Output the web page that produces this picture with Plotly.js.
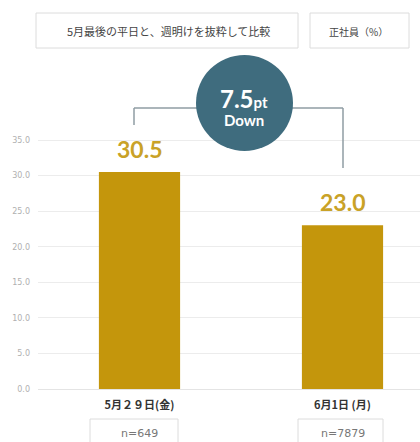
<!DOCTYPE html>
<html><head><meta charset="utf-8">
<script src="https://cdn.plot.ly/plotly-3.0.1.min.js"></script>
<style>html,body{margin:0;padding:0;background:#fff}</style>
</head><body><div id="chart" style="width:420px;height:442px"></div>
<script>
const categories = ["5月２９日(金)", "6月1日 (月)"];
const values = [30.5, 23.0];
const sampleSizes = ["n=649", "n=7879"];
const yTicks = [0, 5, 10, 15, 20, 25, 30, 35];
const diffText = "7.5";
const headerLeft = "5月最後の平日と、週明けを抜粋して比較";
const headerRight = "正社員（%）";

const W = 420, H = 442, ML = 38, MB = 53, MT = 0, MR = 0;
const PW = W - ML - MR, PH = H - MT - MB;
const px = x => (x - ML) / PW;
const py = y => (H - MB - y) / PH;
const yMax = 35 * PH / (389 - 140);

const jp = '"Noto Sans CJK JP", "Noto Sans", sans-serif';
const numFont = 'Lato, "Noto Sans", sans-serif';
const smallFont = '"DejaVu Sans", sans-serif';

const trace = {
  type: 'bar', x: categories, y: values,
  marker: {color: '#C4960C'}, width: 0.4, hoverinfo: 'skip'
};

const boxLine = {color: '#dcdcdc', width: 1};
const shapes = [
  {type:'rect', xref:'paper', yref:'paper', x0:px(36), x1:px(298), y0:py(13), y1:py(48), line:boxLine, fillcolor:'rgba(0,0,0,0)'},
  {type:'rect', xref:'paper', yref:'paper', x0:px(310), x1:px(409), y0:py(13), y1:py(48), line:boxLine, fillcolor:'rgba(0,0,0,0)'},
  {type:'line', xref:'paper', yref:'paper', x0:px(134), x1:px(343), y0:py(108), y1:py(108), line:{color:'#8f9ca3', width:1.5}},
  {type:'line', xref:'paper', yref:'paper', x0:px(134), x1:px(134), y0:py(108), y1:py(125), line:{color:'#8f9ca3', width:1.5}},
  {type:'line', xref:'paper', yref:'paper', x0:px(343), x1:px(343), y0:py(108), y1:py(168), line:{color:'#8f9ca3', width:1.5}},
  {type:'circle', xref:'paper', yref:'paper', x0:px(196), x1:px(293), y0:py(55), y1:py(151), line:{width:0}, fillcolor:'#3F6C7E'},
  {type:'rect', xref:'paper', yref:'paper', x0:px(90), x1:px(178), y0:py(419), y1:py(446), line:boxLine, fillcolor:'rgba(0,0,0,0)'},
  {type:'rect', xref:'paper', yref:'paper', x0:px(298), x1:px(383), y0:py(419), y1:py(446), line:boxLine, fillcolor:'rgba(0,0,0,0)'}
];

const mid = {showarrow:false, xanchor:'center', yanchor:'middle'};
const annotations = [
  Object.assign({xref:'paper', yref:'paper', x:px(168), y:py(31), text:headerLeft, font:{family:jp, size:11, color:'#444'}}, mid),
  Object.assign({xref:'paper', yref:'paper', x:px(358), y:py(31), text:headerRight, font:{family:jp, size:10, color:'#444'}}, mid),
  Object.assign({xref:'paper', yref:'paper', x:px(244), y:py(98), text:'<b>' + diffText + '</b><b><span style="font-size:15px">pt</span></b>', font:{family:numFont, size:24, color:'#ffffff'}}, mid),
  Object.assign({xref:'paper', yref:'paper', x:px(244), y:py(120), text:'<b>Down</b>', font:{family:numFont, size:15, color:'#ffffff'}}, mid)
];
values.forEach((v, i) => {
  annotations.push({x: categories[i], y: v, xref:'x', yref:'y', text: '<b>' + v.toFixed(1) + '</b>', showarrow:false, xanchor:'center', yanchor:'bottom', yshift:7,
    font:{family:numFont, size:23, color:'#C9A227'}});
  annotations.push(Object.assign({x: categories[i], xref:'x', yref:'paper', y: py(433), text: sampleSizes[i],
    font:{family:smallFont, size:11, color:'#777'}}, mid));
});

const layout = {
  width: W, height: H,
  margin: {l: ML, r: MR, t: MT, b: MB, pad: 0},
  paper_bgcolor: '#fff', plot_bgcolor: '#fff',
  showlegend: false,
  xaxis: {type:'category', range:[-0.5, -0.5 + PW / 203], showgrid:false, zeroline:false, showline:false, ticks:'',
    tickfont:{family:jp, size:11, color:'#333', weight:'bold'}, ticklabelstandoff: 8, fixedrange:true},
  yaxis: {range:[0, yMax], tickvals:yTicks, ticktext:yTicks.map(t => t.toFixed(1)), showgrid:true, gridcolor:'#ececec', gridwidth:1,
    zeroline:true, zerolinecolor:'#e4e4e4', showline:false, ticks:'', tickfont:{family:smallFont, size:8, color:'#b0b0b0'}, ticklabelstandoff: 7, fixedrange:true},
  shapes: shapes,
  annotations: annotations
};

Plotly.newPlot('chart', [trace], layout, {displayModeBar:false, staticPlot:true});
</script></body></html>
